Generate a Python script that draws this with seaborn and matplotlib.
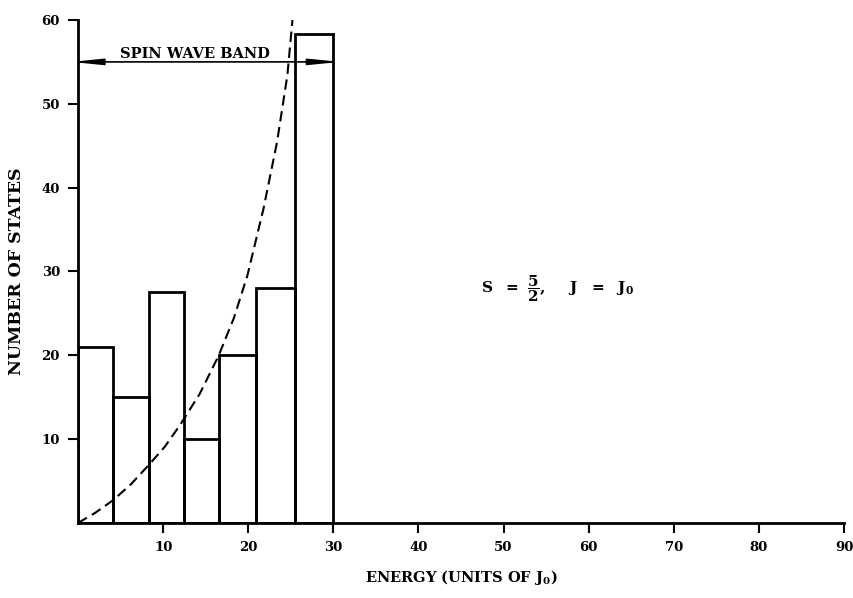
import numpy as np
import seaborn as sns
import matplotlib.pyplot as plt

# histogram of states (bin edges in units of J0)
bin_edges = [0, 4.1, 8.3, 12.4, 16.6, 20.9, 25.5, 30.0]
state_counts = [21, 15, 27.6, 10, 20, 28, 58.3]

# dashed spin wave density curve
curve_x = [0, 2.0, 4.1, 6.2, 8.3, 10.2, 12.0, 14.3, 16.5, 18.3, 19.9, 21.8, 23.4, 24.6, 25.2]
curve_y = [0, 1.2, 2.7, 4.6, 6.9, 9.1, 11.7, 15.4, 19.9, 24.4, 29.5, 37.5, 45.5, 53.4, 60.0]

x_ticks = [10, 20, 30, 40, 50, 60, 70, 80, 90]
y_ticks = [10, 20, 30, 40, 50, 60]

sns.set_style('ticks')
plt.rcParams['font.family'] = ['DejaVu Serif']
plt.rcParams['font.weight'] = 'bold'
plt.rcParams['mathtext.fontset'] = 'dejavuserif'
plt.rcParams['text.color'] = 'black'
plt.rcParams['axes.labelcolor'] = 'black'

fig = plt.figure(figsize=(8.54, 5.98), dpi=100)
ax = fig.add_axes([0.0913, 0.1254, 0.8970, 0.8412])

centers = [(a + b) / 2 for a, b in zip(bin_edges[:-1], bin_edges[1:])]
sns.histplot(x=centers, weights=state_counts, bins=bin_edges, fill=False,
             color='black', linewidth=2, ax=ax)
sns.lineplot(x=curve_x, y=curve_y, color='black', linestyle=(0, (5, 2.7)),
             linewidth=1.5, ax=ax)

# spin wave band arrow (tips reach the band edges 0 and 30)
ax.annotate('', xy=(-0.8, 55), xytext=(30.8, 55),
            arrowprops=dict(arrowstyle='<|-|>,head_length=1.3,head_width=0.13',
                            color='black', lw=1.2, mutation_scale=14,
                            shrinkA=0, shrinkB=0), annotation_clip=False)
ax.text(13.8, 55.5, 'SPIN WAVE BAND', ha='center', va='baseline', fontsize=10.5,
        fontweight='bold')

ax.text(47.3, 28, r'$\mathbf{S\ \ =\ \dfrac{5}{2},\ \ \ \ J\ \ =\ \ J_0}$',
        ha='left', va='center', fontsize=11)

ax.set_xlim(0, 90)
ax.set_ylim(0, 60)
tick_font = dict(fontsize=9.5, fontweight='bold', fontfamily='DejaVu Serif')
ax.set_xticks(x_ticks, [str(v) for v in x_ticks], **tick_font)
ax.set_yticks(y_ticks, [str(v) for v in y_ticks], **tick_font)
ax.tick_params(axis='both', direction='out', length=7, width=1.5, pad=6,
               colors='black')
ax.set_xlabel(r'ENERGY (UNITS OF J$_\mathbf{0}$)', fontsize=10.5, fontweight='bold',
              labelpad=10)
ax.set_ylabel('NUMBER OF STATES', fontsize=12.5, fontweight='bold', labelpad=12)
for side in ['left', 'bottom']:
    ax.spines[side].set_linewidth(2)
    ax.spines[side].set_color('black')
sns.despine(ax=ax)

fig.savefig('out.png', dpi=100)
